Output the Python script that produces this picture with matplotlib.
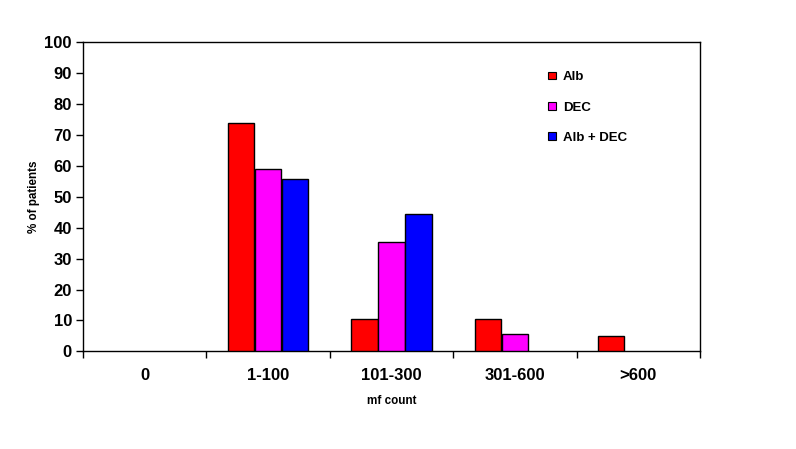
import matplotlib.pyplot as plt
import numpy as np
from matplotlib.patches import Patch

plt.rcParams['font.family'] = ['Liberation Sans', 'DejaVu Sans']
plt.rcParams['font.weight'] = 'bold'

# データ
categories = ['0', '1-100', '101-300', '301-600', '>600']
alb = [0, 74, 10.3, 10.3, 5.1]
dec = [0, 59, 35.3, 5.7, 0]
alb_dec = [0, 55.7, 44.4, 0, 0]
series_names = ['Alb', 'DEC', 'Alb + DEC']
colors = ['#ff0000', '#ff00ff', '#0000ff']

fig = plt.figure(figsize=(7.96, 4.49), dpi=100)
ax = fig.add_axes([83 / 796, 1 - 351.3 / 449, (700 - 83) / 796, (351.3 - 42.3) / 449])

x = np.arange(len(categories))
w = 0.22
for i, (vals, c) in enumerate(zip([alb, dec, alb_dec], colors)):
    vals = np.array(vals, dtype=float)
    keep = vals > 0
    ax.bar((x + (i - 1) * w)[keep], vals[keep], width=w * 0.97, color=c,
           edgecolor='black', linewidth=1, zorder=3)

ax.set_xlim(-0.5, len(categories) - 0.5)
ax.set_ylim(0, 100)
ax.set_yticks(range(0, 101, 10))
ax.set_xticks(np.arange(-0.5, len(categories), 1.0))
ax.set_xticklabels([])
ax.set_xticks(x, minor=True)
ax.set_xticklabels(categories, minor=True, fontsize=12, fontweight='bold')
ax.tick_params(axis='x', which='minor', length=0, pad=12)
ax.tick_params(axis='x', which='major', length=5, width=1, direction='out')
ax.tick_params(axis='y', length=5, width=1, labelsize=12, pad=3)
for lbl in ax.get_yticklabels():
    lbl.set_fontweight('bold')
for s in ax.spines.values():
    s.set_linewidth(1)

ax.set_xlabel('mf count', fontsize=8.4, fontweight='bold', labelpad=9)
ax.set_ylabel('% of patients', fontsize=8.4, fontweight='bold', labelpad=3)

handles = [Patch(facecolor=c, edgecolor='black', linewidth=0.8) for c in colors]
ax.legend(handles, series_names, loc='upper left', bbox_to_anchor=(0.735, 0.945),
          frameon=False, handlelength=0.55, handleheight=0.55,
          labelspacing=1.4, handletextpad=0.55, prop={'weight': 'bold', 'size': 9.5})

fig.savefig('out.png', dpi=100)
